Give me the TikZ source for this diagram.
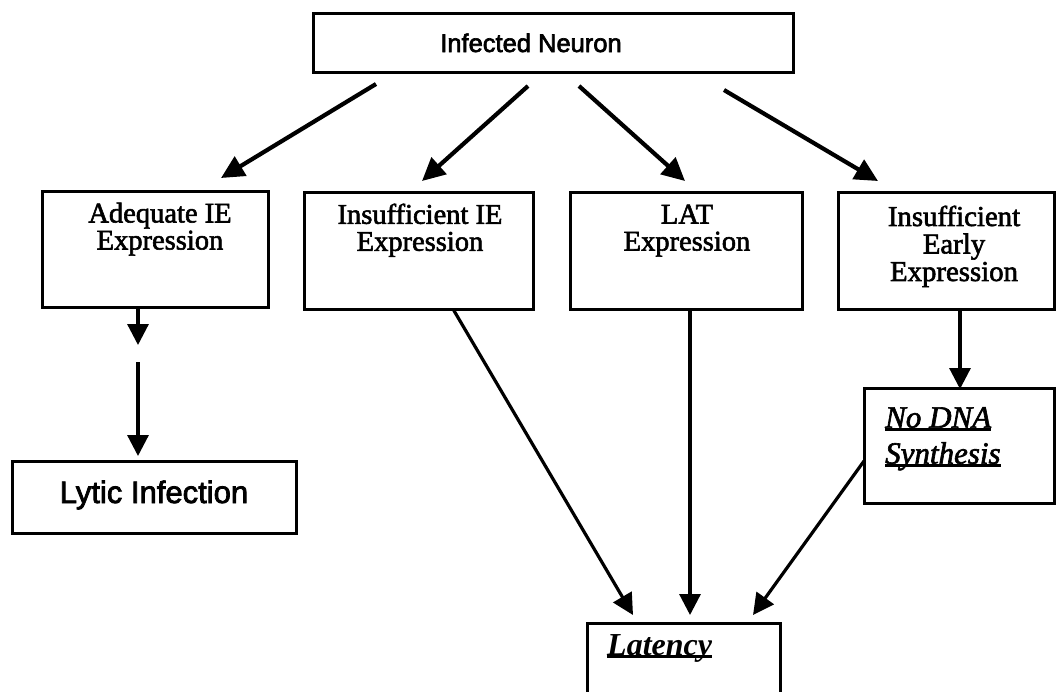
\documentclass[tikz,border=0pt]{standalone}
\usepackage{fontspec}
\setmainfont{Liberation Serif}
\newfontfamily\arialfont{Liberation Sans}[FakeBold=2.5]
\newfontfamily\heavyserif{Liberation Serif}[FakeBold=2]
\usetikzlibrary{arrows.meta}
\newcommand\myul[2][2.4pt]{\setbox0\hbox{#2}\rlap{\rule[-3pt]{\wd0}{#1}}\box0}
\tikzset{
  box/.style={draw=black, line width=3pt, rectangle, inner sep=0pt, outer sep=0pt},
  sanslbl/.style={inner sep=0pt, font=\arialfont\fontsize{25.5}{30}\selectfont},
  seriflbl/.style={inner sep=0pt, align=center, font=\heavyserif\fontsize{28.5}{27}\selectfont},
  arr/.style={line width=3.2pt, -{Triangle[length=21pt,width=21pt]}},
  arrtop/.style={line width=4.2pt, -{Triangle[length=23pt,width=22pt]}},
}
\begin{document}
\begin{tikzpicture}[x=1pt,y=-1pt]
\clip (0,0) rectangle (1059,691);
\fill[white] (0,0) rectangle (1059,691);
% boxes
\node[box, minimum width=480pt, minimum height=59pt] (in) at (553,42.5) {};
\node[sanslbl, anchor=base] (intxt) at (531,52) {Infected Neuron};
\node[box, minimum width=226pt, minimum height=116pt] (adq) at (155,249) {};
\node[seriflbl, anchor=north] (adqtxt) at (160,202.5) {Adequate IE\\Expression};
\node[box, minimum width=229pt, minimum height=117pt] (insie) at (418.5,250.5) {};
\node[seriflbl, anchor=north] (insietxt) at (420,203.5) {Insufficient IE\\Expression};
\node[box, minimum width=232pt, minimum height=117pt] (lat) at (686,250.5) {};
\node[seriflbl, anchor=north] (lattxt) at (687,204.5) {LAT\\Expression};
\node[box, minimum width=216pt, minimum height=117pt] (inse) at (946,250.5) {};
\node[seriflbl, anchor=north, font=\heavyserif\fontsize{28.8}{27.5}\selectfont] (insetxt) at (954,205.5) {Insufficient\\Early\\Expression};
\node[box, minimum width=284pt, minimum height=72pt] (lytic) at (154,497) {};
\node[sanslbl, anchor=base, font=\arialfont\fontsize{31}{35}\selectfont] (lytictxt) at (154,503) {Lytic Infection};
\node[box, minimum width=190pt, minimum height=115pt] (nodna) at (959,445.5) {};
\node[inner sep=0pt, anchor=north west, align=left, font=\heavyserif\itshape\fontsize{31}{36}\selectfont] (nodnatxt) at (885,407) {\myul{No DNA}\\\myul{Synthesis}};
\node[box, minimum width=193pt, minimum height=97pt] (latency) at (683.5,671.5) {};
\node[inner sep=0pt, anchor=base west, font=\bfseries\itshape\fontsize{32}{36}\selectfont] (latencytxt) at (607,655) {\myul[3pt]{Latency}};
% free arrow ends
\coordinate (a1s) at (376,84);  \coordinate (a1e) at (221,178);
\coordinate (a2s) at (528,86);  \coordinate (a2e) at (422,181);
\coordinate (a3s) at (579,86);  \coordinate (a3e) at (685,181);
\coordinate (a4s) at (724,90);  \coordinate (a4e) at (878,181);
\coordinate (adqs) at (138,307); \coordinate (adqm) at (138,345);
\coordinate (adqm2) at (138,362); \coordinate (lyte) at (138,456);
\coordinate (insies) at (453,309); \coordinate (insiee) at (633,615);
\coordinate (late) at (690,615);
\coordinate (nodnas) at (864,461); \coordinate (nodnae) at (753,615);
% arrows
\draw[arrtop] (a1s) -- (a1e);
\draw[arrtop] (a2s) -- (a2e);
\draw[arrtop] (a3s) -- (a3e);
\draw[arrtop] (a4s) -- (a4e);
\draw[arr] (adqs) -- (adqm);
\draw[arr] (adqm2) -- (lyte);
\draw[arr] (insies) -- (insiee);
\draw[arr] (lat.south -| late) -- (late);
\draw[arr] (inse.south -| 960,0) -- (960,389);
\draw[arr] (nodnas) -- (nodnae);
\end{tikzpicture}
\end{document}
